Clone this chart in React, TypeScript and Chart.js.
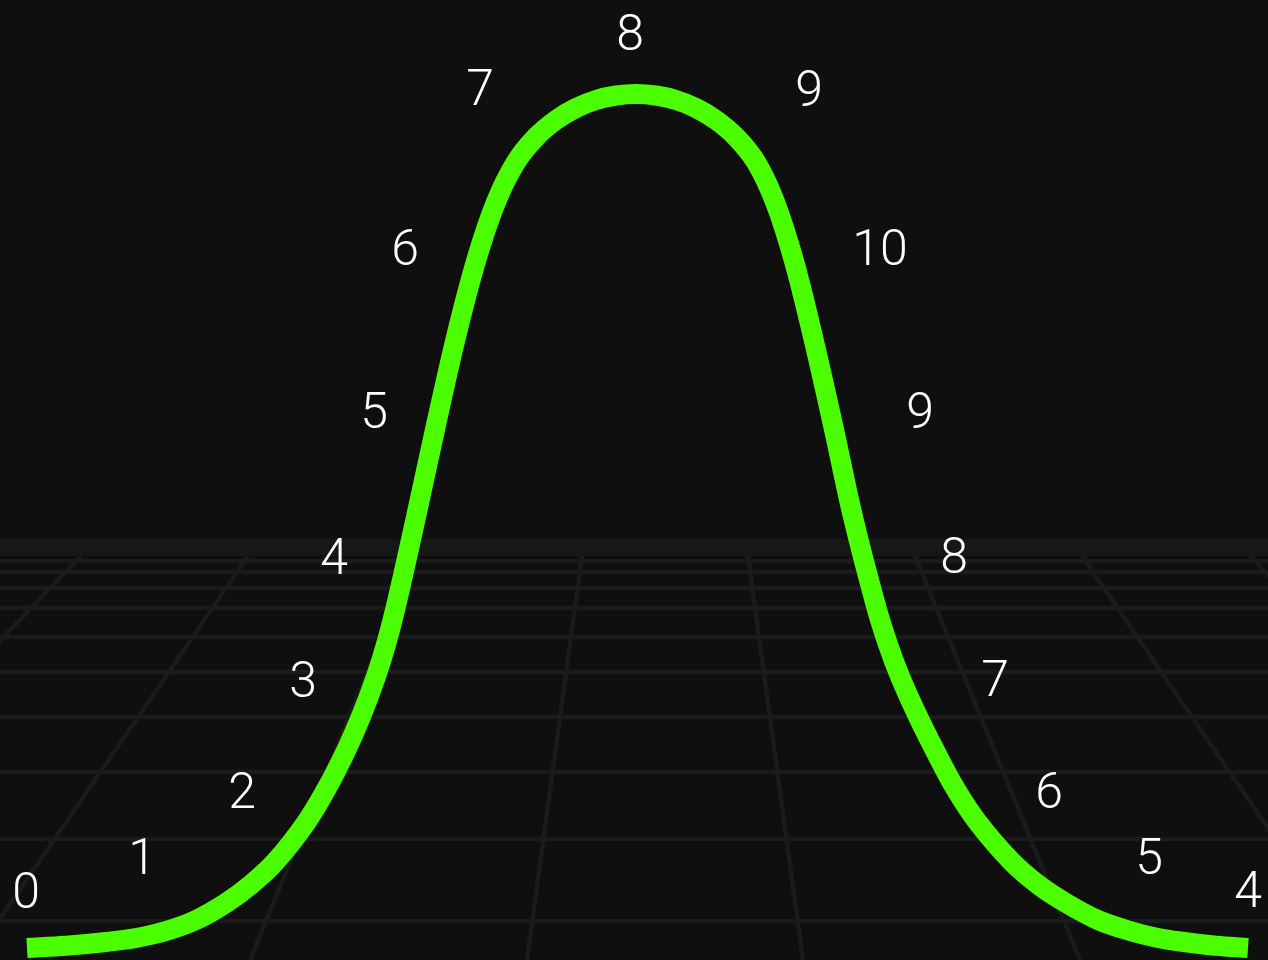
import React, { useEffect, useRef } from "react";
import { Chart, registerables } from "chart.js";

Chart.register(...registerables);

// ---- Scale domain (abstract units; floor level = 0) ----
const X_MIN = 0;
const X_MAX = 1268;
const Y_MIN = 0;
const Y_MAX = 960;

// ---- Bell curve ----
const curveX = [
  27, 66, 106, 136, 166, 196, 226, 251, 276, 306, 326, 346, 361, 376, 386, 396, 416, 436, 456, 476, 496, 516, 536,
  556, 576, 596, 616, 636,
  656, 676, 696, 716, 736, 756, 775, 794, 813, 833, 853, 876, 888, 900, 918, 935, 956, 978, 1011, 1038, 1066, 1098,
  1130, 1158, 1184, 1216, 1248,
];
const curveY = [
  12, 14.2, 18, 22, 29, 40, 57, 75.5, 99, 137.3, 170.3, 209.3, 243.4, 283.5, 315.5, 354, 443, 535, 623, 699, 758, 798,
  823, 840, 852, 860, 864.5, 866,
  864.5, 860, 852, 840, 823, 798, 758, 699, 623, 535, 443, 354, 315.5, 283.5, 243.4, 209.3, 170.3, 137.3, 99, 75.5,
  57, 40, 29, 22, 18, 14.2, 12,
];

// ---- Labels along the curve ----
const labelText = ["0", "1", "2", "3", "4", "5", "6", "7", "8", "9", "10", "9", "8", "7", "6", "5", "4"];
const labelX = [26, 142, 242, 303, 334, 374, 405, 480, 630, 809, 880, 920, 954, 995, 1049, 1149, 1248];
const labelY = [70, 104, 170, 281, 404, 550, 713, 873, 928, 872, 713, 550, 405, 282, 170, 104, 71];

// ---- Perspective floor ----
const horizonY = 412.5;
const floorRowsY = [399, 388, 372, 352, 323, 288, 243, 188, 121, 39];
const floorColsTopX = [81, 248, 415, 582, 748, 915, 1082, 1250];
const floorColsBottomX = [-306, -28, 250, 527, 803, 1080, 1358, 1636];
const floorTopY = 404;
const floorBottomY = 0;

const FONT = "300 50px Roboto, Lato, 'Open Sans', sans-serif";

const labelPlugin = {
  id: "curveLabels",
  afterDatasetsDraw(chart: any) {
    const idx = chart.data.datasets.findIndex((d: any) => d.label === "labels");
    if (idx < 0) return;
    const meta = chart.getDatasetMeta(idx);
    const ctx = chart.ctx;
    ctx.save();
    ctx.font = FONT;
    ctx.fillStyle = "#ffffff";
    ctx.textAlign = "center";
    ctx.textBaseline = "alphabetic";
    meta.data.forEach((el: any, i: number) => {
      const t = labelText[i];
      const m = ctx.measureText(t);
      const h = m.actualBoundingBoxAscent - m.actualBoundingBoxDescent;
      ctx.fillText(t, el.x, el.y + h / 2);
    });
    ctx.restore();
  },
};

export default function App() {
  const ref = useRef<HTMLCanvasElement | null>(null);

  useEffect(() => {
    if (!ref.current) return;

    const curveData = curveX.map((x, i) => ({ x, y: curveY[i] }));
    const labelData = labelX.map((x, i) => ({ x, y: labelY[i] }));

    const rowData: any[] = [];
    floorRowsY.forEach((y) => {
      rowData.push({ x: X_MIN, y });
      rowData.push({ x: X_MAX, y });
      rowData.push({ x: (X_MIN + X_MAX) / 2, y: null });
    });

    const colData: any[] = [];
    floorColsTopX.forEach((x, i) => {
      colData.push({ x, y: floorTopY });
      colData.push({ x: floorColsBottomX[i], y: floorBottomY });
      colData.push({ x: (X_MIN + X_MAX) / 2, y: null });
    });

    const chart = new Chart(ref.current, {
      type: "line",
      data: {
        datasets: [
          {
            label: "curve",
            data: curveData,
            borderColor: "#4cff00",
            borderWidth: 20,
            borderCapStyle: "butt",
            borderJoinStyle: "round",
            tension: 0.35,
            pointRadius: 0,
            fill: false,
          },
          {
            label: "labels",
            data: labelData,
            showLine: false,
            pointRadius: 0,
            borderWidth: 0,
          },
          {
            label: "rows",
            data: rowData,
            borderColor: "#1b1b1b",
            borderWidth: 4.5,
            pointRadius: 0,
            spanGaps: false,
            tension: 0,
          },
          {
            label: "cols",
            data: colData,
            borderColor: "#1b1b1b",
            borderWidth: 4.5,
            pointRadius: 0,
            spanGaps: false,
            tension: 0,
          },
          {
            label: "horizon",
            data: [
              { x: X_MIN, y: horizonY },
              { x: X_MAX, y: horizonY },
            ],
            borderColor: "#171717",
            borderWidth: 17,
            borderCapStyle: "butt",
            pointRadius: 0,
          },
        ] as any,
      },
      options: {
        animation: false,
        responsive: true,
        maintainAspectRatio: false,
        events: [],
        layout: { padding: 0 },
        plugins: {
          legend: { display: false },
          tooltip: { enabled: false },
        },
        scales: {
          x: { type: "linear", min: X_MIN, max: X_MAX, display: false },
          y: { type: "linear", min: Y_MIN, max: Y_MAX, display: false },
        },
      } as any,
      plugins: [labelPlugin],
    });

    return () => chart.destroy();
  }, []);

  return (
    <div
      style={{
        position: "absolute",
        left: 0,
        top: 0,
        width: 1268,
        height: 960,
        background: "#0f0f0f",
        overflow: "hidden",
      }}
    >
      <canvas ref={ref} />
    </div>
  );
}
